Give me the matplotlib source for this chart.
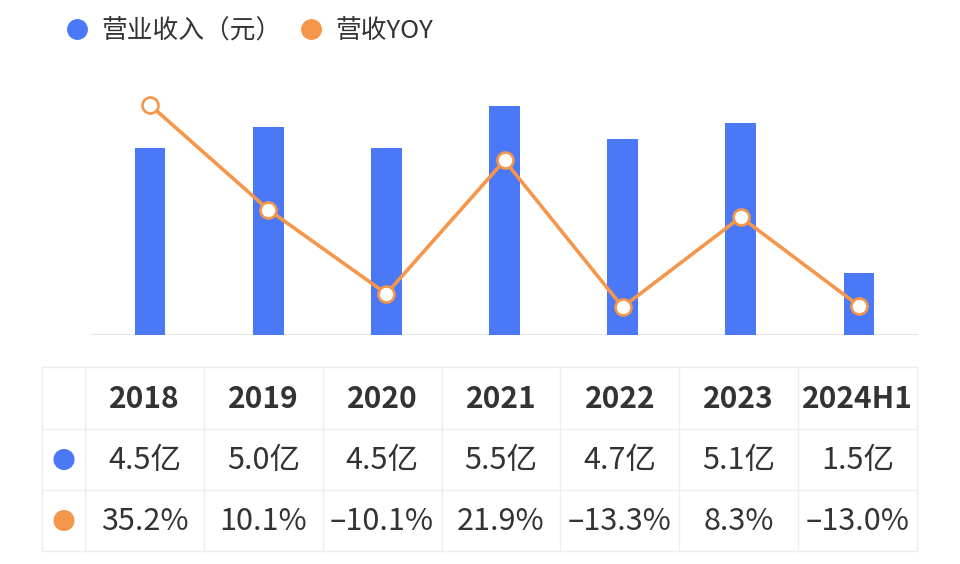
import matplotlib
matplotlib.use("Agg")
import matplotlib.pyplot as plt
from matplotlib.lines import Line2D

plt.rcParams['font.family'] = ['Noto Sans CJK SC', 'DejaVu Sans']

years = ['2018', '2019', '2020', '2021', '2022', '2023', '2024H1']
revenue = [4.5, 5.0, 4.5, 5.5, 4.7, 5.1, 1.5]          # 亿元
yoy = [35.2, 10.1, -10.1, 21.9, -13.3, 8.3, -13.0]      # %

blue = '#4a78f6'
orange = '#f5964a'
text_c = '#333333'
grid_c = '#eeeeee'

fig = plt.figure(figsize=(9.6, 5.64), dpi=100)

# chart area
ax = fig.add_axes([91/960, 1 - 335/564, 827/960, 250/564])
x = range(len(years))
ax.bar(x, revenue, width=0.26, color=blue, zorder=2)
ax.set_xlim(-0.5, len(years) - 0.5)
ax.set_ylim(0, 6)
ax.axhline(0, color='#e4e6ea', lw=1.5, zorder=1)
ax.axis('off')

ax2 = ax.twinx()
ax2.plot(x, yoy, color=orange, lw=2.6, marker='o', markersize=11.5,
         markerfacecolor='white', markeredgecolor=orange, markeredgewidth=1.9, zorder=3)
ax2.set_ylim(-20, 40)
ax2.axis('off')

# legend
handles = [Line2D([], [], ls='none', marker='o', markersize=14, color=blue),
           Line2D([], [], ls='none', marker='o', markersize=14, color=orange)]
fig.legend(handles, ['营业收入（元）', '营收YOY'], loc='center left',
           bbox_to_anchor=(41/960, 1 - 31/564), ncol=2, frameon=False,
           fontsize=18.5, handlelength=1.0, handletextpad=0.45, columnspacing=0.65,
           labelcolor=text_c)

# table below the chart (pixel coordinates)
tb = fig.add_axes([0, 0, 1, 1], zorder=0)
tb.set_xlim(0, 960)
tb.set_ylim(564, 0)
tb.axis('off')

left, first_col, right = 42, 85, 917
rows = [367, 429, 490, 551]
col_w = (right - first_col) / len(years)
for r in rows:
    tb.plot([left, right], [r, r], color=grid_c, lw=1)
tb.plot([left, left], [rows[0], rows[-1]], color=grid_c, lw=1)
for i in range(len(years) + 1):
    cx = first_col + i * col_w
    tb.plot([cx, cx], [rows[0], rows[-1]], color=grid_c, lw=1)

row_mid = [(rows[i] + rows[i + 1]) / 2 for i in range(3)]
tb.scatter([64, 64], row_mid[1:], s=[200, 200], color=[blue, orange], zorder=3)


def fmt_pct(v):
    s = f"{abs(v):.1f}%"
    return ('–' + s) if v < 0 else s


for i, yr in enumerate(years):
    cx = first_col + (i + 0.5) * col_w
    tb.text(cx, row_mid[0] + 1, yr, ha='center', va='center', fontsize=21.5,
            fontweight='bold', color=text_c)
    tb.text(cx, row_mid[1] + 1, f"{revenue[i]:.1f}亿", ha='center', va='center',
            fontsize=22, color=text_c)
    tb.text(cx, row_mid[2] + 1, fmt_pct(yoy[i]), ha='center', va='center',
            fontsize=22, color=text_c)

fig.savefig('out.png', dpi=100)
